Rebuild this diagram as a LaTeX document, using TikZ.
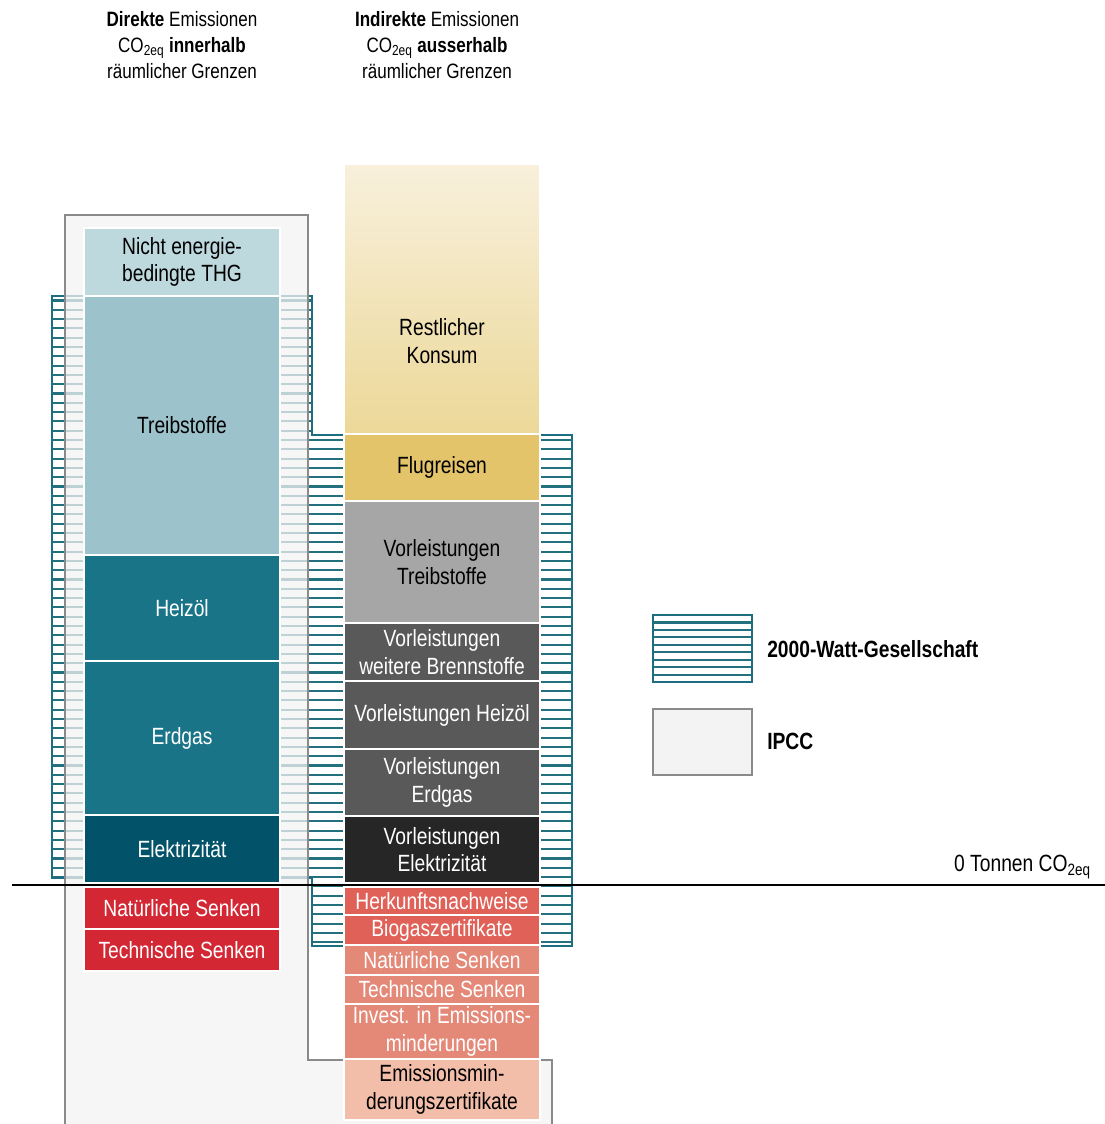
\documentclass[tikz,border=0pt]{standalone}
\usepackage{fontspec}
\setmainfont{Liberation Sans}[FakeStretch=0.82]
\newcommand\pxu{0.75pt}
\newcommand\barfont{\fontsize{17.6pt}{20.6pt}\selectfont}
\newcommand\topfont{\fontsize{15.6pt}{19.2pt}\selectfont}
\definecolor{cNicht}{HTML}{BDD9DE}
\definecolor{cTreib}{HTML}{9CC2CC}
\definecolor{cTeal}{HTML}{1A7487}
\definecolor{cElek}{HTML}{02536A}
\definecolor{cRed}{HTML}{D32734}
\definecolor{cFlug}{HTML}{E3C46B}
\definecolor{cGTreib}{HTML}{A6A6A6}
\definecolor{cGDark}{HTML}{595959}
\definecolor{cGElek}{HTML}{262626}
\definecolor{cSal}{HTML}{DF6158}
\definecolor{cSalL}{HTML}{E48878}
\definecolor{cPeach}{HTML}{F2BEAA}
\definecolor{cGradTop}{HTML}{F8F0DC}
\definecolor{cGradBot}{HTML}{ECD898}
\definecolor{cHatch}{HTML}{1D6E80}
\definecolor{cHatchL}{HTML}{23707F}
\definecolor{cIpcc}{HTML}{F3F3F3}
\definecolor{cIpccD}{HTML}{8A8A8A}
\begin{document}
\begin{tikzpicture}[x=0.75pt,y=-0.75pt,
  bx/.style={rectangle, draw=white, line width=1.1pt, minimum width=196*\pxu,
    inner sep=0pt, align=center, font=\barfont},
  dk/.style={text=white},
  hatchline/.style={draw=cHatchL, line width=1.6pt},
  hatchedge/.style={draw=cHatch, line width=1.5pt},
  ipccedge/.style={draw=cIpccD, line width=1.5pt},
  toplab/.style={align=center, font=\topfont, inner sep=0pt},
  leglab/.style={anchor=west, font=\barfont\bfseries, inner sep=0pt}]
\useasboundingbox (0,0) rectangle (1105,1124);
\fill[white] (0,0) rectangle (1105,1124);

% 2000-Watt hatched region
\begin{scope}
  \clip (52,296) -- (312,296) -- (312,435) -- (572,435) -- (572,946) -- (312,946) -- (312,878) -- (52,878) -- cycle;
  \fill[white] (40,290) rectangle (580,950);
  \foreach \i in {0,...,70} \draw[hatchline] (40,{300.5+9.3*\i}) -- (580,{300.5+9.3*\i});
\end{scope}
\draw[hatchedge] (52,296) -- (312,296) -- (312,435) -- (572,435) -- (572,946) -- (312,946) -- (312,878) -- (52,878) -- cycle;

% IPCC region
\fill[cIpcc, fill opacity=0.75] (65,215) -- (308,215) -- (308,1060) -- (552,1060) -- (552,1124) -- (65,1124) -- cycle;
\draw[ipccedge] (65,1126) -- (65,215) -- (308,215) -- (308,1060) -- (552,1060) -- (552,1126);

% left column
\node[bx, fill=cNicht, minimum height=68*\pxu] (nicht) at (182,262) {Nicht energie-\\bedingte THG};
\node[bx, fill=cTreib, minimum height=259*\pxu] (treib) at (182,425.5) {Treibstoffe};
\node[bx, fill=cTeal, dk, minimum height=106*\pxu] (heiz) at (182,608) {Heizöl};
\node[bx, fill=cTeal, dk, minimum height=154*\pxu] (erdg) at (182,738) {Erdgas};
\node[bx, fill=cElek, dk, minimum height=68*\pxu] (elek) at (182,849) {Elektrizität};
\node[bx, fill=cRed, dk, minimum height=42*\pxu] (natL) at (182,908) {Natürliche Senken};
\node[bx, fill=cRed, dk, minimum height=42*\pxu] (techL) at (182,950) {Technische Senken};

% right column
\node[bx, top color=cGradTop, bottom color=cGradBot, minimum height=270*\pxu] (rest) at (442,299) {};
\node[align=center, font=\barfont, inner sep=0pt] (resttxt) at (442,341) {Restlicher\\Konsum};
\node[bx, fill=cFlug, minimum height=67*\pxu] (flug) at (442,467.5) {Flugreisen};
\node[bx, fill=cGTreib, minimum height=122*\pxu] (vtreib) at (442,562) {Vorleistungen\\Treibstoffe};
\node[bx, fill=cGDark, dk, minimum height=58*\pxu] (vbrenn) at (442,652) {Vorleistungen\\weitere Brennstoffe};
\node[bx, fill=cGDark, dk, minimum height=68*\pxu] (vheiz) at (442,715) {Vorleistungen Heizöl};
\node[bx, fill=cGDark, dk, minimum height=67*\pxu] (verdg) at (442,782.5) {Vorleistungen\\Erdgas};
\node[bx, fill=cGElek, dk, minimum height=67*\pxu] (velek) at (442,849.5) {Vorleistungen\\Elektrizität};
\node[bx, fill=cSal, dk, minimum height=28*\pxu] (herk) at (442,901) {Herkunftsnachweise};
\node[bx, fill=cSal, dk, minimum height=30*\pxu] (biog) at (442,930) {Biogaszertifikate};
\node[bx, fill=cSalL, dk, minimum height=30*\pxu] (natR) at (442,960) {Natürliche Senken};
\node[bx, fill=cSalL, dk, minimum height=29*\pxu] (techR) at (442,989.5) {Technische Senken};
\node[bx, fill=cSalL, dk, minimum height=55*\pxu] (inv) at (442,1031.5) {Invest. in Emissions-\\minderungen};
\node[bx, fill=cPeach, minimum height=61*\pxu] (emz) at (442,1089.5) {Emissionsmin-\\derungszertifikate};

% top labels
\node[toplab] (topL) at (182,45) {\textbf{Direkte} Emissionen\\CO\textsubscript{2eq} \textbf{innerhalb}\\räumlicher Grenzen};
\node[toplab] (topR) at (437,45) {\textbf{Indirekte} Emissionen\\CO\textsubscript{2eq} \textbf{ausserhalb}\\räumlicher Grenzen};

% legend
\begin{scope}
  \clip (653,615) rectangle (752,682);
  \fill[white] (653,615) rectangle (752,682);
  \foreach \i in {1,...,8} \draw[hatchline] (650,{615+7.45*\i}) -- (760,{615+7.45*\i});
\end{scope}
\draw[hatchedge] (653,615) rectangle (752,682);
\node[leglab] (leg2000) at (767,649) {2000-Watt-Gesellschaft};
\filldraw[fill=cIpcc, ipccedge] (653,709) rectangle (752,775);
\node[leglab] (legipcc) at (767,741) {IPCC};

% zero line
\coordinate (zl) at (12,885);
\coordinate (zr) at (1105,885);
\draw[black, line width=1.5pt] (zl) -- (zr);
\node[anchor=east, font=\barfont, inner sep=0pt] (zlab) at (1091,867) {0 Tonnen CO\textsubscript{2eq}};
\end{tikzpicture}
\end{document}
